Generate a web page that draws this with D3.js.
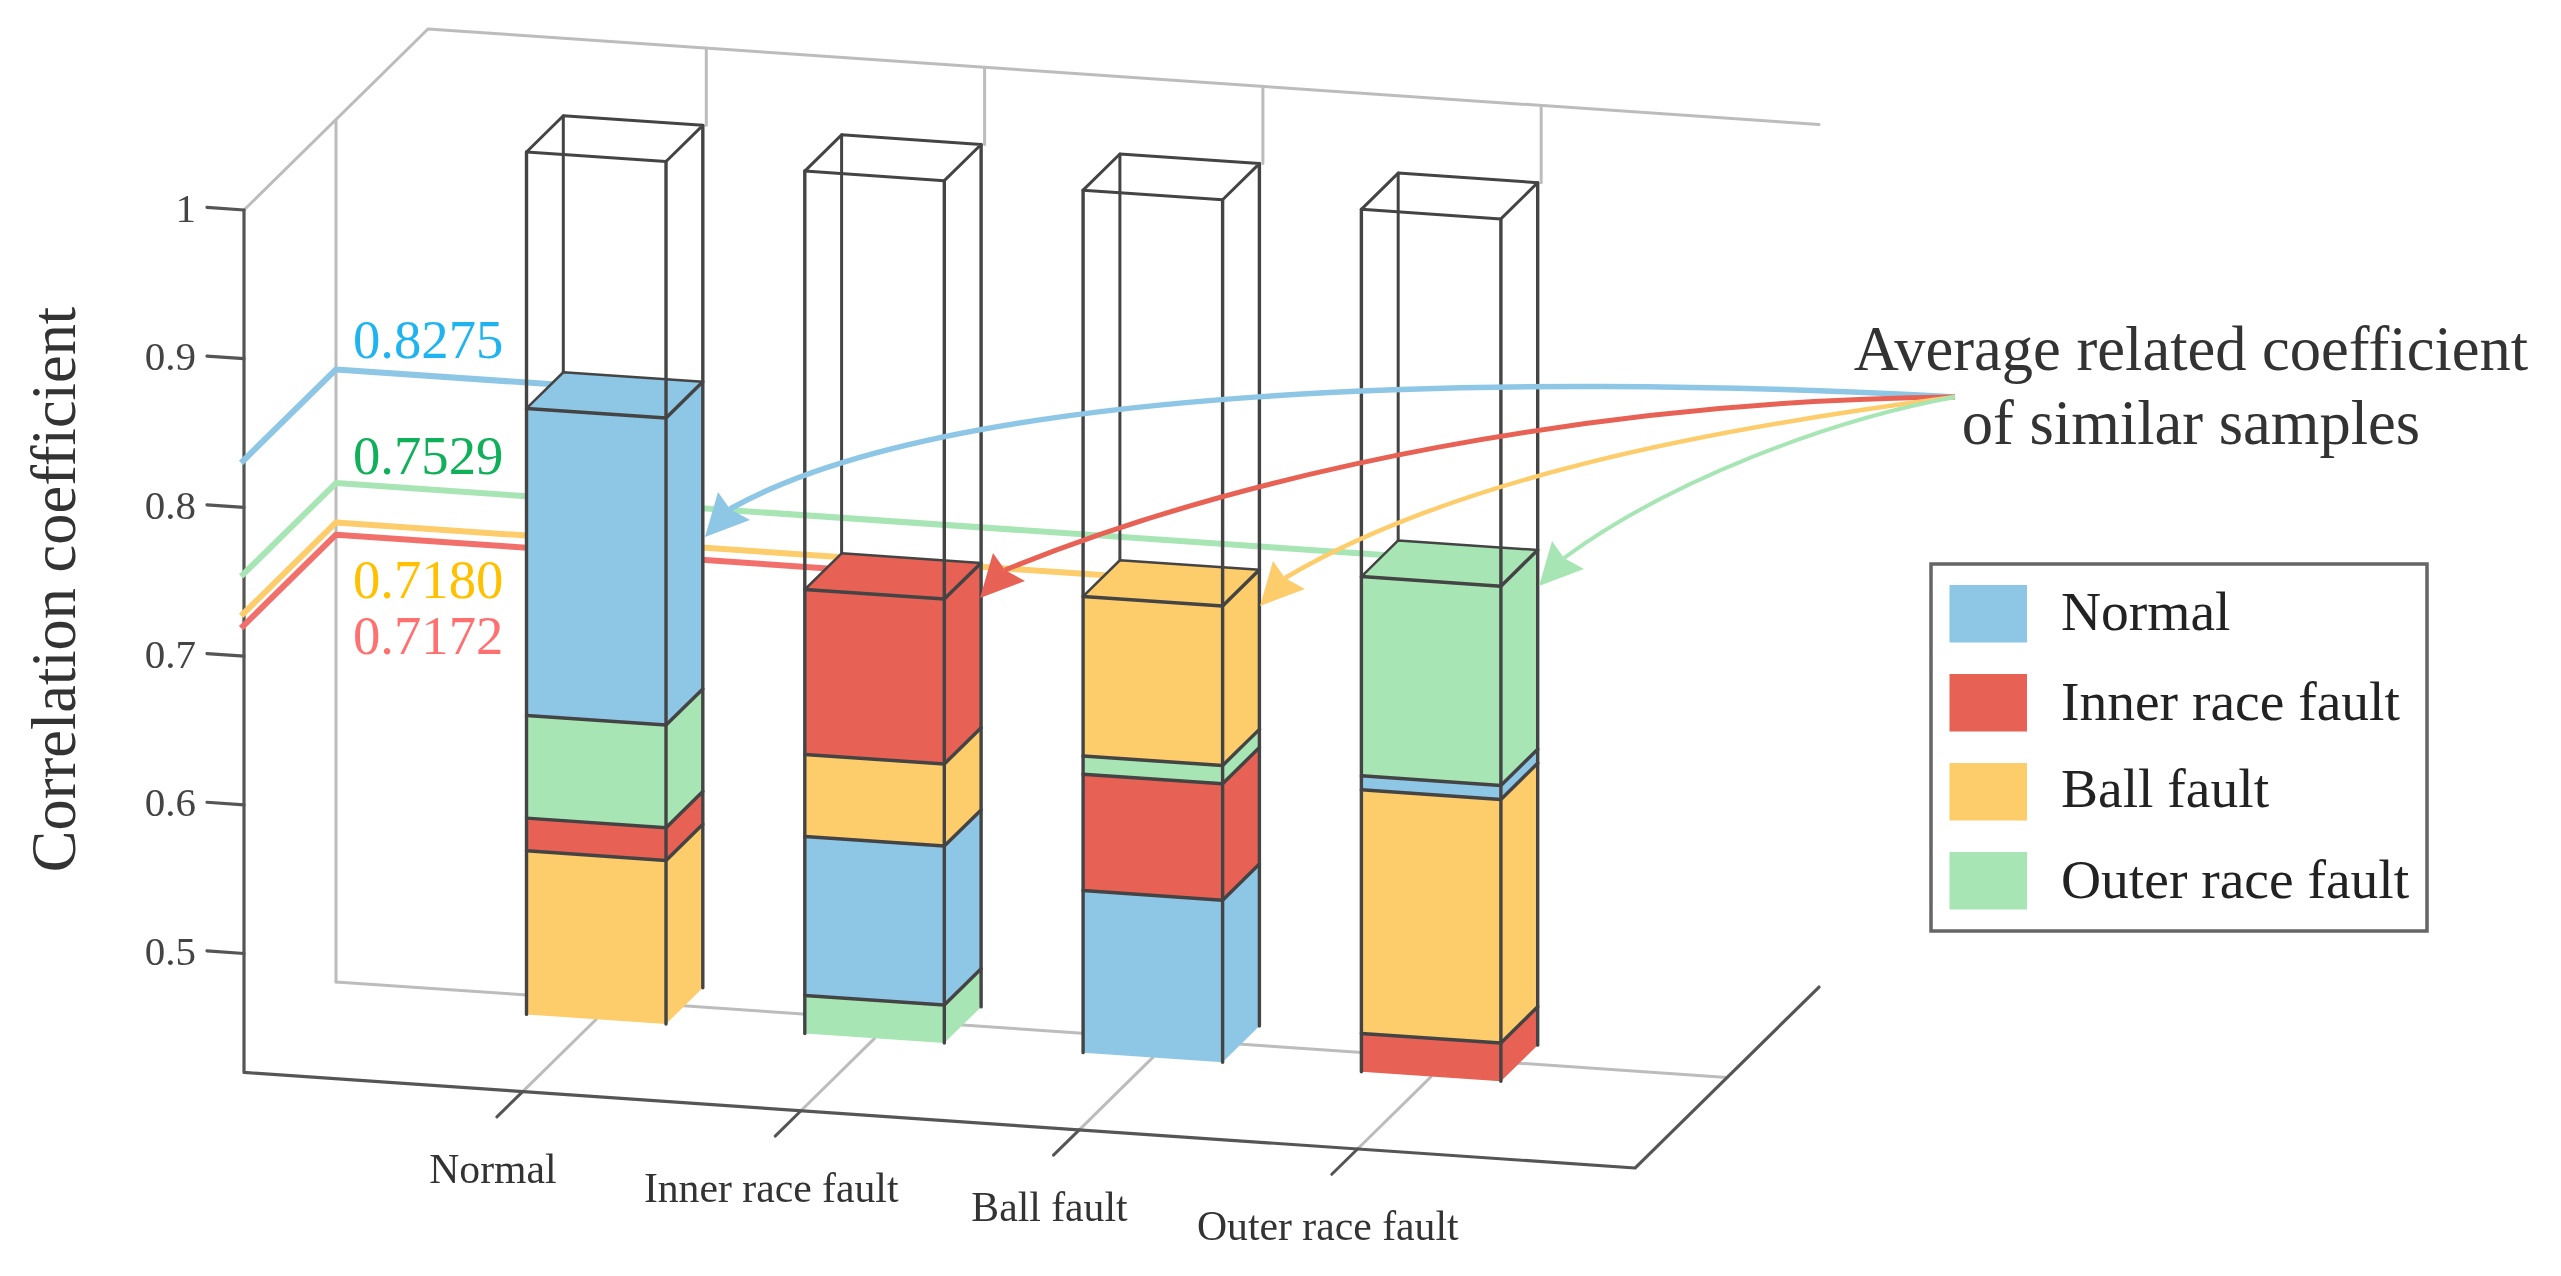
<!DOCTYPE html>
<html>
<head>
<meta charset="utf-8">
<script src="https://cdn.jsdelivr.net/npm/d3@7"></script>
<style>
html,body{margin:0;padding:0;background:#fff;overflow:hidden}
svg{display:block;filter:blur(0.7px)}
text{font-family:"Liberation Serif",serif}
</style>
</head>
<body>
<svg id="chart" width="2561" height="1276"></svg>
<script>
// ---------- data ----------
const categories = ["Normal", "Inner race fault", "Ball fault", "Outer race fault"];
const seriesNames = ["Normal", "Inner race fault", "Ball fault", "Outer race fault"];
const seriesColors = ["#8EC6E6", "#E76154", "#FDCC6B", "#A8E5B5"];
const yTicks = [1, 0.9, 0.8, 0.7, 0.6, 0.5];
const yTickLabels = ["1", "0.9", "0.8", "0.7", "0.6", "0.5"];
const barBase = 0.42;
const barTop = 1;
// stack order, bottom to top, as indexes in seriesNames
const orderNormal = [2, 1, 3, 0];
const orderInner = [3, 0, 2, 1];
const orderBall = [0, 1, 3, 2];
const orderOuter = [1, 2, 0, 3];
// segment heights, bottom to top
const heightsNormal = [0.110, 0.022, 0.069, 0.2065];
const heightsInner = [0.0256, 0.1069, 0.0552, 0.1109];
const heightsBall = [0.109, 0.0783, 0.0122, 0.1073];
const heightsOuter = [0.0258, 0.1638, 0.0094, 0.134];
// average coefficient labels and the level of each wall line
const averageLabels = ["0.8275", "0.7529", "0.7180", "0.7172"];
const averageSeries = [0, 3, 2, 1];
const averageEndBar = [0, 3, 2, 1];
const wallLevels = [0.8319, 0.7555, 0.729, 0.7208];
const annotationLines = ["Average related coefficient", "of similar samples"];

// ---------- scales ----------
const svg = d3.select("#chart");
const yScale = d3.scaleLinear().domain([1, 0.5]).range([210, 953.5]);
const xBand = d3.scaleBand().domain(categories).range([139.5, 1252.7]).paddingInner(0.4987).paddingOuter(0.2494);
const depthX = d3.scaleLinear().domain([0, 1]).range([0, 184]);
const depthY = d3.scaleLinear().domain([0, 1]).range([0, -181]);
const originX = 244, slope = 0.0687, axisLen = 1391;
const project = (u, d, v) => [originX + u + depthX(d), yScale(v) + u * slope + depthY(d)];
const D_FRONT = 0.4, D_BACK = 0.6, D_WALL = 0.5;

const dark = "#444", grey = "#bcbcbc";
const line = (pts, color, w, fill) => svg.append("path")
  .attr("d", d3.line()(pts) + (fill ? "Z" : ""))
  .attr("fill", fill ? color : "none")
  .attr("stroke", fill ? "none" : color)
  .attr("stroke-width", w || 0)
  .attr("stroke-linecap", "round")
  .attr("stroke-linejoin", "round");

// ---------- box: grey back parts ----------
const vLow = barBase;
line([project(0, 0, 1), project(0, 1, 1), project(axisLen, 1, 1)], grey, 3);
line([project(0, D_WALL, vLow), project(0, D_WALL, 1)], grey, 3);
line([project(0, D_WALL, vLow), project(axisLen, D_WALL, vLow)], grey, 3);
const step = xBand.step();
categories.forEach((c, i) => {
  const u = step * (i + 1);
  const bandR = xBand(c) + xBand.bandwidth();
  const top = project(bandR, D_BACK, 1);
  line([project(u, 1, 1), [project(u, 1, 1)[0], top[1]]], grey, 3);
});

// floor lines and ticks
categories.forEach(c => {
  const u = xBand(c) + xBand.bandwidth() / 2;
  line([project(u, 0, vLow), project(u, D_FRONT, vLow)], grey, 3);
  line([project(u, -0.14, vLow), project(u, 0, vLow)], "#555", 3);
});

// ---------- axes: dark front parts ----------
line([project(0, 0, 1), project(0, 0, vLow), project(axisLen, 0, vLow), project(axisLen, 1, vLow)], "#555", 3.2);
yTicks.forEach((t, i) => {
  line([project(-37, 0, t), project(0, 0, t)], "#555", 3.2);
  svg.append("text").attr("x", 196).attr("y", yScale(t) + 11.5)
    .attr("text-anchor", "end").attr("font-size", 41).attr("fill", "#444").text(yTickLabels[i]);
});
svg.append("text").attr("transform", "translate(75,589.5) rotate(-90)")
  .attr("text-anchor", "middle").attr("font-size", 62.4).attr("fill", "#333").text("Correlation coefficient");
categories.forEach(c => {
  const p = project(xBand(c) + xBand.bandwidth() / 2, -0.14, vLow);
  svg.append("text").attr("x", p[0] - 4).attr("y", p[1] + 66)
    .attr("text-anchor", "middle").attr("font-size", 41.7).attr("fill", "#333").text(c);
});

// ---------- wall lines for the averages ----------
averageSeries.forEach((s, i) => {
  const lvl = wallLevels[i];
  const endC = categories[averageEndBar[i]];
  const endU = xBand(endC) + xBand.bandwidth() / 2;
  line([project(0, -0.016, lvl), project(0, D_WALL, lvl), project(endU, D_WALL, lvl)],
    i === 3 ? "#F2706B" : seriesColors[s], 6).attr("stroke-linecap", "butt");
});
const labelBaselines = [358, 473.5, 598, 654];
const labelColors = ["#1FB4F0", "#10B05A", "#FFC000", "#FF7070"];
averageLabels.forEach((t, i) => {
  svg.append("text").attr("x", 353).attr("y", labelBaselines[i])
    .attr("font-size", 54.7).attr("fill", labelColors[i]).text(t);
});

// ---------- bars ----------
const orders = [orderNormal, orderInner, orderBall, orderOuter];
const heights = [heightsNormal, heightsInner, heightsBall, heightsOuter];
categories.forEach((c, i) => {
  const uL = xBand(c), uR = uL + xBand.bandwidth();
  const topV = barBase + d3.sum(heights[i]);
  const order = orders[i];
  // back wireframe
  line([project(uL, D_BACK, topV), project(uL, D_BACK, barTop)], dark, 3);
  // stacked solids
  let low = barBase;
  const edges = [];
  heights[i].forEach((h, k) => {
    const high = low + h, color = seriesColors[order[k]];
    line([project(uL, D_FRONT, low), project(uR, D_FRONT, low), project(uR, D_FRONT, high), project(uL, D_FRONT, high)], color, 0, true);
    line([project(uR, D_FRONT, low), project(uR, D_BACK, low), project(uR, D_BACK, high), project(uR, D_FRONT, high)], color, 0, true);
    edges.push(high);
    low = high;
  });
  const topColor = seriesColors[order[order.length - 1]];
  line([project(uL, D_FRONT, topV), project(uR, D_FRONT, topV), project(uR, D_BACK, topV), project(uL, D_BACK, topV)], topColor, 0, true);
  // boundaries
  edges.forEach(v => {
    line([project(uL, D_FRONT, v), project(uR, D_FRONT, v), project(uR, D_BACK, v)], dark, 3.5);
  });
  line([project(uL, D_FRONT, topV), project(uL, D_BACK, topV), project(uR, D_BACK, topV)], dark, 2.5);
  // front wireframe
  line([project(uL, D_FRONT, barTop), project(uR, D_FRONT, barTop), project(uR, D_BACK, barTop), project(uL, D_BACK, barTop), project(uL, D_FRONT, barTop)], dark, 3);
  line([project(uL, D_FRONT, barBase), project(uL, D_FRONT, barTop)], dark, 3.4);
  line([project(uR, D_FRONT, barBase), project(uR, D_FRONT, barTop)], dark, 3.4);
  line([project(uR, D_BACK, barBase), project(uR, D_BACK, barTop)], dark, 3.4);
});

// ---------- annotation arrows (page layout, not data) ----------
const arrowHead = [[0, 0], [13, -45], [25, -28], [45, -17]];
const arrowStart = [1955, 397];
const arrows = [
  {s: 0, w: 5.5, tip: [705, 537], c: [1500, 372, 950, 385, 730, 509]},
  {s: 1, w: 5, tip: [980, 598], c: [1600, 400, 1250, 470, 1005, 570]},
  {s: 2, w: 4.5, tip: [1260, 606], c: [1700, 430, 1450, 480, 1285, 578]},
  {s: 3, w: 4, tip: [1539, 586], c: [1830, 420, 1670, 480, 1564, 558]}
];
arrows.forEach(a => {
  const p = d3.path();
  p.moveTo(arrowStart[0], arrowStart[1]);
  p.bezierCurveTo(...a.c);
  svg.append("path").attr("d", p.toString()).attr("fill", "none")
    .attr("stroke", seriesColors[a.s]).attr("stroke-width", a.w);
  svg.append("polygon").attr("fill", seriesColors[a.s])
    .attr("points", arrowHead.map(q => [a.tip[0] + q[0], a.tip[1] + q[1]].join(",")).join(" "));
});

// ---------- annotation text ----------
[[370], [444]].forEach((b, i) => {
  svg.append("text").attr("x", 2191).attr("y", b[0]).attr("text-anchor", "middle")
    .attr("font-size", 62.5).attr("fill", "#333").text(annotationLines[i]);
});

// ---------- legend ----------
svg.append("rect").attr("x", 1931).attr("y", 564).attr("width", 496).attr("height", 367)
  .attr("fill", "#fff").attr("stroke", "#666").attr("stroke-width", 3.5);
const legendY = d3.scalePoint().domain(seriesNames).range([585, 852]);
const legendBaselines = [630, 720, 807, 898];
seriesNames.forEach((n, i) => {
  svg.append("rect").attr("x", 1949.5).attr("y", legendY(n)).attr("width", 77.5).attr("height", 57.5)
    .attr("fill", seriesColors[i]);
  svg.append("text").attr("x", 2061).attr("y", legendBaselines[i])
    .attr("font-size", 55.5).attr("fill", "#222").text(n);
});
</script>
</body>
</html>
